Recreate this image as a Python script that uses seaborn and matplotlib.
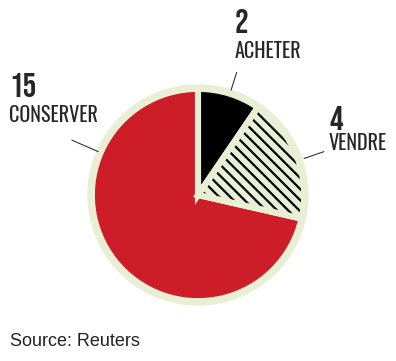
import numpy as np
import seaborn as sns
import matplotlib.pyplot as plt
from matplotlib.patches import Circle

# donnees
categories = ['ACHETER', 'VENDRE', 'CONSERVER']
votes = [2, 4, 15]
source = 'Source: Reuters'

sns.set_style('white')
plt.rcParams['hatch.linewidth'] = 1.6

creme = '#e8efd4'
couleurs = sns.color_palette(['#000000', creme, '#cc1d29'])

W, H = 396, 361
cx, cy, R = 198, 195, 110  # centre et rayon en pixels

fig = plt.figure(figsize=(W / 100, H / 100), dpi=100)
ax = fig.add_axes([0, 0, 1, 1])

# parts
wedges, _ = ax.pie(votes, colors=couleurs, startangle=90, counterclock=False,
                   radius=0.965, wedgeprops=dict(linewidth=0, edgecolor='black'))
wedges[1].set_hatch('\\\\\\')
for w in wedges:
    w.set_zorder(1)

# contours creme par-dessus
bords, _ = ax.pie(votes, colors=['none'] * 3, startangle=90, counterclock=False,
                  radius=0.965, wedgeprops=dict(linewidth=4.4, edgecolor=creme, fill=False))
for b in bords:
    b.set_zorder(2)

# disque creme derriere
ax.add_patch(Circle((0, 0), 1.0, color=creme, zorder=0))

ax.set_xlim(-cx / R, (W - cx) / R)
ax.set_ylim((cy - H) / R, cy / R)
ax.axis('off')

# traits de rappel
angles = [72.5, 19, 156.5]
r_in = [1.0, 1.02, 0.99]
r_out = [1.17, 1.21, 1.25]
for a, r0, r1 in zip(angles, r_in, r_out):
    t = np.deg2rad(a)
    ax.plot([r0 * np.cos(t), r1 * np.cos(t)], [r0 * np.sin(t), r1 * np.sin(t)],
            color='#333333', lw=0.8, zorder=3)

police_chiffre = ['Bebas Neue', 'Oswald', 'DejaVu Sans']
police_label = ['Oswald', 'Antonio', 'DejaVu Sans']
pos_labels = [(235, 33, 58), (329, 130, 150), (9, 97, 122)]
for cat, v, (x, yn, yl) in zip(categories, votes, pos_labels):
    fig.text(x / W, 1 - yn / H, str(v), family=police_chiffre, fontsize=24.5,
             va='baseline', ha='left')
    fig.text(x / W, 1 - yl / H, cat, family=police_label, fontsize=14.5, fontweight='light',
             va='baseline', ha='left')

fig.text(10 / W, 1 - 346 / H, source, family=['Liberation Sans', 'DejaVu Sans'],
         fontsize=13, va='baseline', ha='left', color='#222222')

fig.savefig('out.png', dpi=100)
